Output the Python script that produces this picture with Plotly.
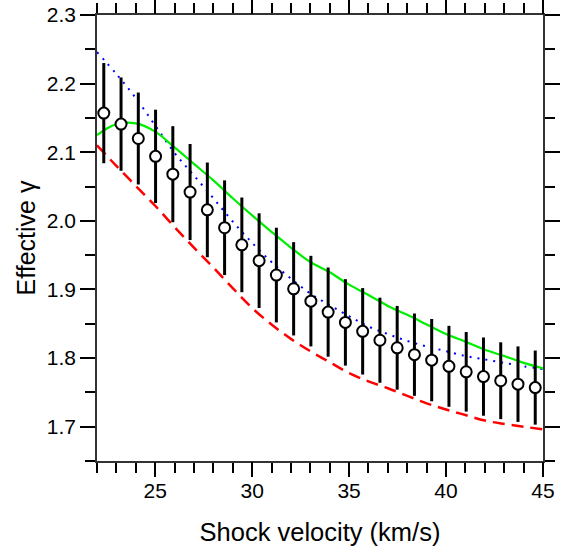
import plotly.graph_objects as go

# Data points (shock velocity km/s, effective gamma, error)
v_obs = [22.35, 23.24, 24.13, 25.02, 25.91, 26.80, 27.69, 28.58, 29.47, 30.36,
         31.25, 32.14, 33.03, 33.92, 34.81, 35.70, 36.59, 37.48, 38.37, 39.26,
         40.15, 41.04, 41.93, 42.82, 43.71, 44.60]
gamma_obs = [2.157, 2.141, 2.120, 2.094, 2.068, 2.042, 2.016, 1.990, 1.965, 1.942,
             1.921, 1.901, 1.883, 1.867, 1.852, 1.839, 1.826, 1.815, 1.805, 1.797,
             1.788, 1.780, 1.773, 1.767, 1.762, 1.757]
gamma_err = [0.073, 0.068, 0.067, 0.068, 0.070, 0.070, 0.069, 0.069, 0.069, 0.069,
             0.069, 0.068, 0.066, 0.065, 0.063, 0.063, 0.062, 0.061, 0.060, 0.060,
             0.059, 0.058, 0.057, 0.056, 0.055, 0.054]

# Model curves
v_model = [22, 23, 24, 25, 26, 27, 28, 29, 30, 31, 32, 33, 34, 35, 36, 37, 38, 39,
           40, 41, 42, 43, 44, 45]
gamma_blue = [2.246, 2.214, 2.179, 2.139, 2.099, 2.066, 2.033, 1.999, 1.968, 1.940,
              1.916, 1.894, 1.877, 1.861, 1.846, 1.835, 1.825, 1.817, 1.810, 1.803,
              1.798, 1.793, 1.788, 1.784]
gamma_green = [2.125, 2.141, 2.142, 2.130, 2.107, 2.083, 2.059, 2.033, 2.008, 1.984,
               1.961, 1.940, 1.925, 1.907, 1.892, 1.876, 1.863, 1.849, 1.835, 1.824,
               1.812, 1.803, 1.793, 1.785]
gamma_red = [2.110, 2.080, 2.051, 2.022, 1.991, 1.961, 1.932, 1.902, 1.873, 1.849,
             1.828, 1.810, 1.794, 1.778, 1.766, 1.756, 1.745, 1.734, 1.725, 1.717,
             1.709, 1.704, 1.700, 1.696]

x_ticks = [25, 30, 35, 40, 45]
y_ticks = [1.7, 1.8, 1.9, 2.0, 2.1, 2.2, 2.3]
y_tick_text = ["1.7", "1.8", "1.9", "2.0", "2.1", "2.2", "2.3"]

FONT = "Liberation Sans, Arial, Helvetica, sans-serif"

fig = go.Figure()
fig.add_trace(go.Scatter(x=v_model, y=gamma_red, mode="lines", line_shape="spline",
                         line=dict(color="#ff0000", width=2.5, dash="12px,7px"),
                         showlegend=False, hoverinfo="skip"))
fig.add_trace(go.Scatter(x=v_model, y=gamma_blue, mode="lines", line_shape="spline",
                         line=dict(color="#0000ff", width=2, dash="2px,6px"),
                         showlegend=False, hoverinfo="skip"))
fig.add_trace(go.Scatter(x=v_model, y=gamma_green, mode="lines", line_shape="spline",
                         line=dict(color="#00ee00", width=2.2),
                         showlegend=False, hoverinfo="skip"))
fig.add_trace(go.Scatter(x=v_obs, y=gamma_obs, mode="markers",
                         marker=dict(size=11, color="white",
                                     line=dict(color="black", width=2)),
                         error_y=dict(type="data", array=gamma_err, visible=True,
                                      color="black", thickness=3, width=0),
                         showlegend=False))
# invisible trace bound to the overlay axis that draws the long major x ticks
fig.add_trace(go.Scatter(x=v_model, y=gamma_green, mode="markers", xaxis="x2",
                         marker=dict(opacity=0), showlegend=False,
                         hoverinfo="skip"))

fig.update_layout(
    xaxis=dict(range=[22, 45], tickmode="array", tickvals=x_ticks,
               ticks="outside", ticklen=10, tickwidth=1.5, tickcolor="black",
               minor=dict(dtick=1, ticklen=10, tickwidth=1.5, tickcolor="black",
                          ticks="outside", showgrid=False),
               showline=True, linecolor="#333", linewidth=1.5, mirror="ticks",
               showgrid=False, zeroline=False, automargin=False,
               tickfont=dict(family=FONT, size=21, color="black"),
               title=dict(text="Shock velocity (km/s)", standoff=22,
                          font=dict(family=FONT, size=25.5, color="black"))),
    xaxis2=dict(range=[22, 45], overlaying="x", anchor="y", side="bottom",
                tickmode="array", tickvals=x_ticks, showticklabels=False,
                ticks="outside", ticklen=15, tickwidth=1.5, tickcolor="black",
                showline=False, mirror="ticks", showgrid=False,
                zeroline=False, automargin=False),
    yaxis=dict(range=[1.65, 2.3], tickmode="array", tickvals=y_ticks,
               ticktext=y_tick_text,
               ticks="outside", ticklen=15, tickwidth=1.5, tickcolor="black",
               minor=dict(dtick=0.05, tick0=1.65, ticklen=10, tickwidth=1.5,
                          tickcolor="black", ticks="outside", showgrid=False),
               showline=True, linecolor="#333", linewidth=1.5, mirror="ticks",
               showgrid=False, zeroline=False, automargin=False,
               tickfont=dict(family=FONT, size=21, color="black"),
               title=dict(text="Effective γ", standoff=4,
                          font=dict(family=FONT, size=25, color="black"))),
    width=570, height=552,
    margin=dict(l=97, r=27, t=15, b=91, pad=0),
    paper_bgcolor="white", plot_bgcolor="white",
    font=dict(family=FONT, color="black"))

fig.write_html("out.html")
